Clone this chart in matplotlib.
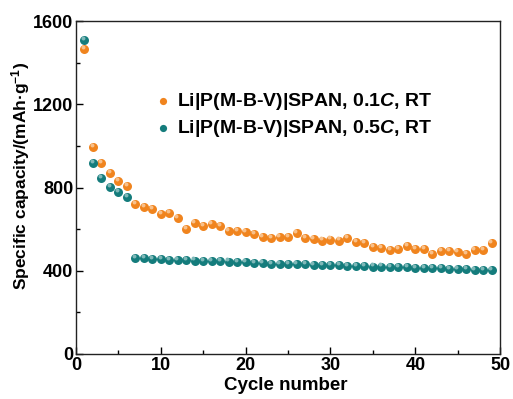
import matplotlib
matplotlib.use("Agg")
import matplotlib.pyplot as plt
import numpy as np
from matplotlib.ticker import MultipleLocator

plt.rcParams['font.family'] = ['Liberation Sans', 'DejaVu Sans']
plt.rcParams['font.weight'] = 'bold'
plt.rcParams['mathtext.fontset'] = 'custom'
plt.rcParams['mathtext.rm'] = 'Liberation Sans:bold'
plt.rcParams['mathtext.bf'] = 'Liberation Sans:bold'
plt.rcParams['mathtext.it'] = 'Liberation Sans:bold:italic'

cycles = list(range(1, 50))
cap_01C = [1465, 993, 916, 868, 831, 807, 719, 708, 697, 673, 676, 655, 602, 628, 615,
           625, 613, 593, 591, 586, 577, 561, 556, 564, 560, 580, 556, 553, 545, 550,
           545, 556, 538, 534, 516, 511, 500, 505, 519, 505, 504, 481, 495, 495, 490,
           479, 500, 498, 532]
cap_05C_early = [1508, 916, 844, 804, 778, 756]
cap_05C_late = [463, 460, 457, 455, 453, 452, 450, 449, 447, 446, 445, 444, 443, 442,
                439, 436, 434, 434, 432, 432, 431, 429, 428, 426, 426, 424, 423, 421, 420,
                420, 418, 416, 416, 415, 413, 413, 412, 410, 408, 407, 405, 404, 402]
cap_05C = cap_05C_early + cap_05C_late

label_01 = r'Li|P(M-B-V)|SPAN, 0.1$\it{C}$, RT'
label_05 = r'Li|P(M-B-V)|SPAN, 0.5$\it{C}$, RT'
c_or = '#F0841E'
c_te = '#147C7C'

fig = plt.figure(figsize=(5.13, 3.99), dpi=100)
ax = fig.add_axes([0.148, 0.113, 0.827, 0.834])

ms = 42
ax.scatter(cycles, cap_01C, s=ms, color=c_or, zorder=3, label=label_01, linewidths=0)
ax.scatter(cycles, cap_05C, s=ms, color=c_te, zorder=3, label=label_05, linewidths=0)
# highlight for sphere look
ax.scatter(np.array(cycles) - 0.15, np.array(cap_01C) + 10, s=8, color='#F8C08A', zorder=4, linewidths=0)
ax.scatter(np.array(cycles) - 0.15, np.array(cap_05C) + 10, s=8, color='#7FB8B8', zorder=4, linewidths=0)

ax.set_xlim(0, 50)
ax.set_ylim(0, 1600)
ax.xaxis.set_major_locator(MultipleLocator(10))
ax.xaxis.set_minor_locator(MultipleLocator(5))
ax.yaxis.set_major_locator(MultipleLocator(400))
ax.yaxis.set_minor_locator(MultipleLocator(200))
ax.tick_params(which='both', direction='in', top=False, right=False, labelsize=13, width=1, pad=2)
ax.tick_params(which='major', length=5)
ax.tick_params(which='minor', length=3)
for lab in ax.get_xticklabels() + ax.get_yticklabels():
    lab.set_fontweight('bold')
for sp in ax.spines.values():
    sp.set_linewidth(1)
    sp.set_color('#222222')

ax.set_xlabel('Cycle number', fontsize=13.5, fontweight='bold')
ax.set_ylabel(r'Specific capacity/(mAh·g$^{-1}$)', fontsize=12.5, fontweight='bold')
ax.xaxis.set_label_coords(0.495, -0.068)
ax.yaxis.set_label_coords(-0.103, 0.535)

leg = ax.legend(loc='center left', bbox_to_anchor=(0.16, 0.718), frameon=False,
                fontsize=14, handletextpad=0.2, labelspacing=0.28, markerscale=0.8,
                handlelength=1.0, borderpad=0)
for t in leg.get_texts():
    t.set_fontweight('bold')

fig.savefig('out.png', dpi=100)
